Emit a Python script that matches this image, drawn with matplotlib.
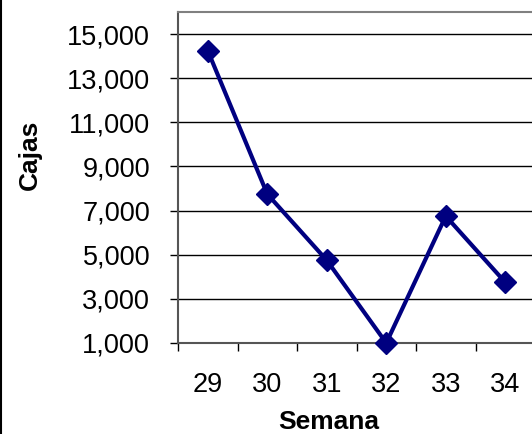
import matplotlib.pyplot as plt
from matplotlib.lines import Line2D
from matplotlib.ticker import FuncFormatter, FixedLocator

semanas = ['29', '30', '31', '32', '33', '34']
cajas = [14250, 7750, 4750, 1000, 6750, 3750]
y_ticks = [1000, 3000, 5000, 7000, 9000, 11000, 13000, 15000]

plt.rcParams['font.family'] = ['Liberation Sans', 'DejaVu Sans']

fig = plt.figure(figsize=(5.32, 4.34), dpi=100)
ax = fig.add_axes([178 / 532, 1 - 343 / 434, 357 / 532, 331 / 434])

x = list(range(len(semanas)))
ax.plot(x, cajas, color='#000080', lw=3, marker='D', markersize=11,
        markerfacecolor='#000080', markeredgecolor='#000080', zorder=3,
        clip_on=False)

ax.set_xlim(-0.5, len(semanas) - 0.5)
ax.set_ylim(1000, 16000)
ax.set_yticks(y_ticks)
ax.yaxis.set_major_formatter(FuncFormatter(lambda v, p: f'{int(v):,}'))
ax.yaxis.grid(True, color='black', lw=1)
ax.set_axisbelow(True)

# category labels centred, ticks between categories
ax.set_xticks(x)
ax.set_xticklabels(semanas)
ax.xaxis.set_minor_locator(FixedLocator([i - 0.5 for i in range(len(semanas) + 1)]))
ax.tick_params(axis='x', which='major', length=0, pad=21, labelsize=19.5)
ax.tick_params(axis='x', which='minor', length=6, width=1, color='black')
ax.tick_params(axis='y', length=6, width=1, color='black', pad=14, labelsize=19.5)

ax.spines['right'].set_visible(False)
ax.spines['top'].set_color('#808080')
ax.spines['top'].set_linewidth(1.5)
ax.spines['left'].set_color('#555555')
ax.spines['left'].set_linewidth(1.5)
ax.spines['bottom'].set_color('#555555')
ax.spines['bottom'].set_linewidth(1.5)

fig.text(329 / 532, 1 - 422 / 434, 'Semana', ha='center', va='center',
         fontsize=19, fontweight='bold')
fig.text(30 / 532, 1 - 155 / 434, 'Cajas', ha='center', va='center',
         fontsize=19, fontweight='bold', rotation=90)

# chart border on the left edge
fig.add_artist(Line2D([0.002, 0.002], [0, 1], color='black', lw=1.5,
                      transform=fig.transFigure))

fig.savefig('out.png', dpi=100)
